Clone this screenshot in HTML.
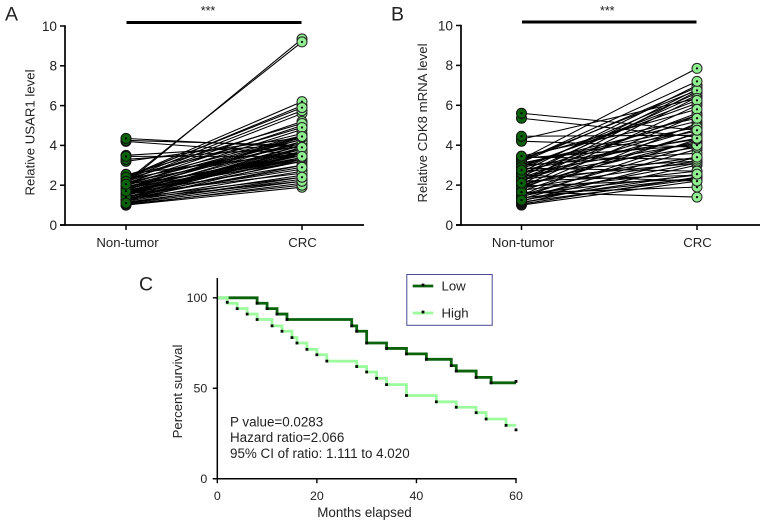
<!DOCTYPE html>
<html>
<head>
<meta charset="utf-8">
<style>
html,body{margin:0;padding:0;background:#fff;}
svg{display:block;font-family:"Liberation Sans",sans-serif;}
text{fill:#222;}
</style>
</head>
<body>
<svg id="fig" width="765" height="525" viewBox="0 0 765 525"></svg>
<script>
// Panel A: paired values (same index = same patient)
const tumorA = [1.0,1.0,1.05,1.08,1.15,1.2,1.25,1.3,1.3,1.35,1.4,1.45,1.5,1.5,1.55,1.6,1.6,1.65,1.7,1.7,1.75,1.8,1.8,1.85,1.9,1.9,1.95,2.0,2.0,2.05,2.1,2.1,2.15,2.2,2.2,2.25,2.3,2.3,2.35,2.4,2.45,2.5,2.55,2.1,3.2,3.3,3.5,4.2,4.25,1.2,1.3,1.4,1.5,1.25,1.6,1.35,1.55,1.75,1.85,1.65,2.3,2.4,2.2,1.4,1.7,4.35,3.45,2.05,1.1];
const crcA = [1.9,2.1,2.0,2.2,2.3,2.5,2.7,2.2,3.0,2.4,3.2,2.8,3.6,3.5,2.6,3.0,3.8,3.3,3.5,4.0,3.2,3.7,4.2,3.3,3.6,4.3,3.5,4.1,4.8,3.3,4.3,5.0,3.8,4.5,5.6,5.2,4.0,5.75,6.0,6.2,4.6,5.1,3.6,9.35,4.4,3.9,4.05,3.55,4.0,3.3,3.4,3.7,4.0,3.9,4.2,3.6,3.9,4.4,4.45,3.65,4.9,5.9,9.2,2.9,3.4,3.9,3.45,4.45,2.4];

// Panel B: paired values
const tumorB = [1.0,1.05,1.1,1.15,1.2,1.3,1.35,1.4,1.45,1.5,1.55,1.6,1.7,1.75,1.8,1.85,1.9,1.95,2.0,2.05,2.15,2.2,2.25,2.3,2.35,2.4,2.45,2.5,2.55,2.6,2.65,2.7,2.8,2.85,2.95,3.0,3.05,3.1,3.15,3.25,3.35,3.4,4.3,4.2,4.45,5.35,1.5,1.9,2.3,2.6,2.9,3.1,1.65,3.3,3.2,2.9,3.35,3.45,2.75,2.1,1.25,5.6];
const crcB = [2.2,2.4,3.0,2.3,3.4,3.8,2.35,4.3,3.1,5.1,2.5,1.9,4.6,2.7,5.5,3.2,6.0,2.3,4.2,6.4,6.7,2.5,4.8,3.1,5.6,6.8,3.9,2.2,6.5,4.1,7.0,3.2,6.6,2.7,6.1,3.6,5.2,4.7,6.9,6.75,4.0,3.3,6.35,3.9,4.5,4.4,4.0,4.6,5.0,5.5,4.3,4.9,1.4,7.85,7.2,6.25,5.8,5.35,4.35,3.4,2.55,4.75];

// Panel C: survival steps
const lowMonths = [0,8,10,12,14,27,28,30,34,38,42,47,48,52,55,60];
const lowSurvival = [100,97,94,91,88,84.5,81.5,75,72,69,66,62.5,59.5,56,53,53];
const lowMarkMonths = [8,10,12,14,27,28,30,34,38,42,47,48,52,55,60];
const lowMarkValues = [97,94,91,88,84.5,81.5,75,72,69,66,62.5,59.5,56,53,53.8];
const highMonths = [0,2,4,6,8,11,13,15,16,18,20,22,28,30,32,34,38,44,48,52,54,58,60];
const highSurvival = [100,97,94,91,88,84.5,81.5,78,75,71.5,68.5,65,62,59,55.5,52,46,42.5,39.5,36.5,33,29.5,29.5];
const highMarkMonths = [2,4,6,8,11,13,15,16,18,20,22,28,30,32,34,38,44,48,52,54,58,60];
const highMarkValues = [97.5,94,91,88,84.5,81.5,78,75,71.5,68.5,65,62,59,55.5,52,46,42.5,39.5,36.5,33,29.5,27];

const pairedTicks = [0,2,4,6,8,10];
const survivalYTicks = [0,50,100];
const survivalXTicks = [0,20,40,60];
const pairedCategories = ['Non-tumor','CRC'];
const statLines = ['P value=0.0283','Hazard ratio=2.066','95% CI of ratio: 1.111 to 4.020'];
const legendLabels = ['Low','High'];

const NS = 'http://www.w3.org/2000/svg';
const root = document.getElementById('fig');
function mk(parent, tag, attrs, txt){
  const e = document.createElementNS(NS, tag);
  for (const k in attrs) e.setAttribute(k, attrs[k]);
  if (txt !== undefined) e.textContent = txt;
  parent.appendChild(e);
  return e;
}
function group(name){
  const g = mk(root, 'g', {});
  
  
  return g;
}
function label(parent, name, x, y, str, size, anchor, rot){
  const attrs = {x:x, y:y, 'font-size':size, 'text-anchor':anchor};
  if (rot) attrs.transform = 'rotate(-90 '+x+' '+y+')';
  const t = mk(parent, 'text', attrs, str);
  
  
  return t;
}

function pairedPanel(cfg){
  const g = group(cfg.name);
  const yScale = v => cfg.y0 + (cfg.y10 - cfg.y0) * v / 10;
  const xL = cfg.xL, xR = cfg.xR;
  const t = cfg.tumor, c = cfg.crc;
  t.forEach((v, i) => {
    const l = mk(g, 'line', {x1:xL, y1:yScale(v), x2:xR, y2:yScale(c[i]), stroke:'#000', 'stroke-width':1.05});
    
    
  });
  t.forEach((v, i) => {
    const m1 = mk(g, 'circle', {cx:xL, cy:yScale(v), r:5, fill:'#0a620a', stroke:'#111', 'stroke-width':1});
    
    
    mk(g, 'circle', {cx:xL, cy:yScale(v), r:1.1, fill:'#000'});
  });
  c.forEach(v => {
    const m2 = mk(g, 'circle', {cx:xR, cy:yScale(v), r:5, fill:'#90ee90', stroke:'#222', 'stroke-width':1});
    
    
    mk(g, 'circle', {cx:xR, cy:yScale(v), r:1.1, fill:'#000'});
  });
  // axes
  const ya = mk(g, 'line', {x1:cfg.axisX, y1:cfg.y10-0.8, x2:cfg.axisX, y2:cfg.y0+0.8, stroke:'#000', 'stroke-width':1.7});
  
  
  const xa = mk(g, 'line', {x1:cfg.axisX-5, y1:cfg.y0, x2:cfg.axisEnd, y2:cfg.y0, stroke:'#000', 'stroke-width':1.7});
  
  
  pairedTicks.forEach(v => {
    mk(g, 'line', {x1:cfg.axisX-5, y1:yScale(v), x2:cfg.axisX, y2:yScale(v), stroke:'#000', 'stroke-width':1.5});
    label(g, 'y-tick-label', cfg.axisX-8, yScale(v)+4.8, String(v), 13.6, 'end');
  });
  [xL, xR].forEach((x, i) => {
    mk(g, 'line', {x1:x, y1:cfg.y0, x2:x, y2:cfg.y0+5, stroke:'#000', 'stroke-width':1.5});
    label(g, 'x-tick-label', x+(i?0.5:1.5), 247, pairedCategories[i], 13.2, 'middle');
  });
  label(g, 'y-axis-title', cfg.titleX, cfg.titleY, cfg.title, 13.2, 'middle', true);
  const bar = mk(g, 'line', {x1:xL+0.5, y1:cfg.barY, x2:xR-0.5, y2:cfg.barY, stroke:'#000', 'stroke-width':3});
  
  
  label(g, 'significance-stars', (xL+xR)/2+(cfg.starDx||0), 15, '***', 12.5, 'middle');
  label(g, 'panel-label', cfg.letterX, 20.5, cfg.letter, 19.5, 'start');
}

pairedPanel({name:'panel-a', letter:'A', letterX:5, tumor:tumorA, crc:crcA,
  xL:126, xR:302, axisX:65, axisEnd:364, y0:225, y10:26, barY:22.5, title:'Relative USAR1 level', titleX:34.5, titleY:132.5, starDx:-6});
pairedPanel({name:'panel-b', letter:'B', letterX:391, tumor:tumorB, crc:crcB,
  xL:521.5, xR:697, axisX:461, axisEnd:760, y0:225, y10:25.5, barY:22, title:'Relative CDK8 mRNA level', titleX:427, titleY:123, starDx:-2});

// Panel C
(function(){
  const g = group('panel-c');
  const x0 = 217.3, x60 = 516, y0 = 478.7, y100 = 297.8;
  const X = m => x0 + (x60 - x0) * m / 60;
  const Y = v => y0 + (y100 - y0) * v / 100;
  function stepPath(ms, vs){
    let d = 'M' + X(ms[0]) + ' ' + Y(vs[0]);
    for (let i = 1; i < ms.length; i++){
      d += 'H' + X(ms[i]) + 'V' + Y(vs[i]);
    }
    return d;
  }
  const lowCurve = mk(g, 'path', {d:stepPath(lowMonths, lowSurvival), fill:'none', stroke:'#0a620a', 'stroke-width':2.8});
  
  
  const highCurve = mk(g, 'path', {d:stepPath(highMonths, highSurvival), fill:'none', stroke:'#9cfb9c', 'stroke-width':2.8});
  
  
  lowMarkMonths.forEach((m, i) => {
    const r = mk(g, 'rect', {x:X(m)-1.4, y:Y(lowMarkValues[i])-1.4, width:2.8, height:2.8, fill:'#0a0a0a'});
    
    
  });
  highMarkMonths.forEach((m, i) => {
    const r = mk(g, 'rect', {x:X(m)-1.4, y:Y(highMarkValues[i])-1.4, width:2.8, height:2.8, fill:'#0a0a0a'});
    
    
  });
  const ya = mk(g, 'line', {x1:x0, y1:278, x2:x0, y2:y0+0.7, stroke:'#000', 'stroke-width':1.5});
  
  
  const xa = mk(g, 'line', {x1:x0-4.5, y1:y0, x2:x60+0.7, y2:y0, stroke:'#000', 'stroke-width':1.5});
  
  
  survivalYTicks.forEach(v => {
    mk(g, 'line', {x1:x0-4.5, y1:Y(v), x2:x0, y2:Y(v), stroke:'#000', 'stroke-width':1.4});
    label(g, 'y-tick-label', x0-10, Y(v)+4.4, String(v), 12.4, 'end');
  });
  survivalXTicks.forEach(v => {
    mk(g, 'line', {x1:X(v), y1:y0, x2:X(v), y2:y0+4.5, stroke:'#000', 'stroke-width':1.4});
    label(g, 'x-tick-label', X(v), 500, String(v), 12.4, 'middle');
  });
  label(g, 'x-axis-title', 364.5, 517, 'Months elapsed', 13.4, 'middle');
  label(g, 'y-axis-title', 182, 391.5, 'Percent survival', 13.2, 'middle', true);
  label(g, 'panel-label', 139, 290.5, 'C', 19.5, 'start');
  statLines.forEach((s, i) => {
    label(g, 'statistics-text', 230, 426.5 + i * 15.7, s, 13.4, 'start');
  });
  const leg = mk(g, 'g', {});
  
  
  mk(leg, 'rect', {x:406.8, y:274.5, width:85.4, height:50.8, fill:'#fff', stroke:'#4a4a94', 'stroke-width':1});
  const colors = ['#0a620a', '#9cfb9c'];
  const legendY = [286, 313];
  legendLabels.forEach((s, i) => {
    const sw = mk(leg, 'line', {x1:412.7, y1:legendY[i], x2:433.3, y2:legendY[i], stroke:colors[i], 'stroke-width':2.8});
    
    
    mk(leg, 'rect', {x:421.6, y:legendY[i]-2.4, width:2.8, height:2.8, fill:'#0a0a0a'});
    label(leg, 'legend-entry', 441.5, legendY[i]+4.5, s, 13.2, 'start');
  });
})();
</script>
</body>
</html>
